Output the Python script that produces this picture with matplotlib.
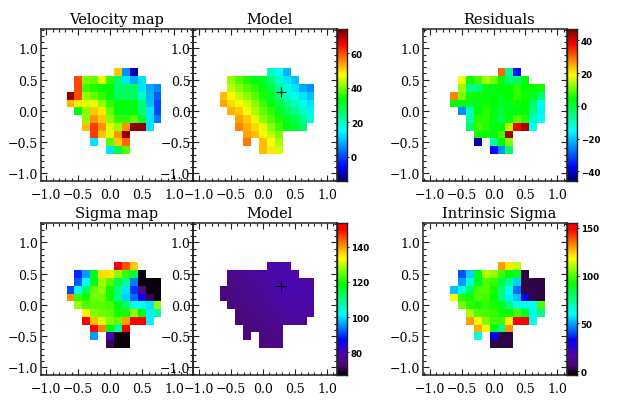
import numpy as np
import matplotlib
matplotlib.use('Agg')
import matplotlib.pyplot as plt
from matplotlib.colors import LinearSegmentedColormap
from matplotlib.ticker import MultipleLocator, FuncFormatter

N = np.nan

# spaxel values, rows from top to bottom, columns left to right
velocity = [
    [N, N, N, N, N, N, 51, 6, -10, N, N, N],
    [N, 60, 40, 39, 46, 36, 25, 13, 8, 13, N, N],
    [N, 60, 37, 35, 34, 33, 26, 26, 27, 13, 8, 5],
    [72, 60, 42, 39, 36, 33, 27, 27, 27, 20, 9, 2],
    [53, 49, 46, 46, 41, 36, 33, 33, 32, 25, 10, 0],
    [N, 33, 41, 51, 49, 39, 33, 32, 33, 25, 13, 0],
    [N, N, 41, 55, 51, 41, 36, 36, 38, 31, 13, 4],
    [N, N, 52, 61, 55, 46, 42, 55, 72, 72, 13, N],
    [N, N, N, 61, 51, 46, 55, 72, N, N, N, N],
    [N, N, N, 13, N, 38, 51, 58, N, N, N, N],
    [N, N, N, N, N, 13, 29, 38, N, N, N, N],
]
velocity_model = [
    [N, N, N, N, N, N, 20, 15, 9, N, N, N],
    [N, 42, 38, 35, 32, 31, 25, 19, 13, 10, N, N],
    [N, 44, 41, 38, 36, 32, 29, 23, 18, 13, 8, 6],
    [52, 48, 44, 41, 38, 35, 31, 25, 19, 17, 13, 10],
    [54, 50, 48, 45, 41, 37, 33, 29, 24, 20, 17, 13],
    [N, 53, 51, 47, 43, 39, 36, 31, 27, 24, 19, 14],
    [N, N, 54, 51, 46, 41, 38, 35, 31, 28, 23, 18],
    [N, N, 56, 53, 50, 46, 41, 37, 33, 30, 26, N],
    [N, N, N, 54, 52, 48, 44, 40, N, N, N, N],
    [N, N, N, 57, N, 52, 47, 43, N, N, N, N],
    [N, N, N, N, N, 52, 49, 45, N, N, N, N],
]
residuals = [
    [N, N, N, N, N, N, 30, -7, -36, N, N, N],
    [N, 18, 5, 8, 14, 11, 4, -5, -4, 4, N, N],
    [N, 13, -6, -5, 3, 3, 4, 4, 7, 4, 5, 5],
    [28, 11, 5, 5, 3, 4, 2, 4, 7, 5, 1, -4],
    [4, 3, 1, 3, 5, 4, 2, 2, 5, 4, -3, -14],
    [N, -25, -9, 4, 6, 3, 0, 3, 3, 4, -5, -16],
    [N, N, -9, 6, 7, 2, -2, 3, 9, 6, -10, -15],
    [N, N, -4, 8, 6, 3, 4, 15, 38, 43, -14, N],
    [N, N, N, 5, 4, 4, 8, 44, N, N, N, N],
    [N, N, N, -42, N, -8, 4, 12, N, N, N, N],
    [N, N, N, N, N, -37, -25, -4, N, N, N, N],
]
sigma = [
    [N, N, N, N, N, N, 150, 145, 137, N, N, N],
    [N, 89, 96, 117, 136, 135, 127, 122, 115, 68, N, N],
    [N, 92, 102, 117, 128, 124, 114, 109, 94, 68, 68, 68],
    [91, 102, 113, 125, 127, 120, 110, 100, 90, 74, 68, 68],
    [141, 122, 120, 126, 125, 120, 110, 99, 93, 85, 71, 68],
    [N, 128, 123, 124, 124, 123, 118, 112, 103, 102, 100, 127],
    [N, N, 134, 126, 125, 124, 120, 120, 127, 118, 101, 108],
    [N, N, 150, 138, 131, 126, 125, 140, 150, 150, 101, N],
    [N, N, N, 150, 142, 119, 108, 150, N, N, N, N],
    [N, N, N, 96, N, 80, 68, 68, N, N, N, N],
    [N, N, N, N, N, 71, 68, 68, N, N, N, N],
]
sigma_model = [
    [N, N, N, N, N, N, 78.5, 78.8, 78.5, N, N, N],
    [N, 75, 75.5, 76, 77, 77.5, 78, 78.5, 79, 78.5, N, N],
    [N, 74.5, 75, 75.5, 76.5, 77, 78, 79, 79, 79, 78.5, 78],
    [73.5, 74, 74.5, 75, 76, 76.5, 77.5, 79, 79, 79, 78.5, 78],
    [73.5, 74, 74.5, 75, 75.5, 76, 77, 78, 78.5, 78.5, 78, 78],
    [N, 73.5, 74, 74.5, 75, 75.5, 76.5, 77.5, 78, 78, 77.5, 77.5],
    [N, N, 73.5, 74, 74.5, 75, 76, 76.5, 77, 77.5, 77.5, 77.5],
    [N, N, 73.5, 73.5, 74, 74.5, 75.5, 76, 76.5, 77, 77, N],
    [N, N, N, 73, 73.5, 74, 74.5, 75, N, N, N, N],
    [N, N, N, 73, N, 73.5, 74, 74.5, N, N, N, N],
    [N, N, N, N, N, 73.5, 74, 74.5, N, N, N, N],
]
intrinsic = [
    [N, N, N, N, N, N, 130, 121, 112, N, N, N],
    [N, 41, 55, 88, 110, 107, 98, 91, 87, 2, N, N],
    [N, 49, 66, 87, 99, 97, 84, 75, 55, 2, 2, 2],
    [53, 64, 80, 99, 100, 93, 77, 61, 44, 2, 2, 2],
    [118, 95, 93, 99, 98, 92, 76, 58, 53, 33, 2, 2],
    [N, 104, 95, 94, 96, 94, 88, 77, 63, 63, 60, 99],
    [N, N, 109, 99, 98, 96, 93, 92, 99, 88, 63, 74],
    [N, N, 130, 119, 105, 98, 97, 119, 152, 152, 62, N],
    [N, N, N, 128, 119, 90, 74, 131, N, N, N, N],
    [N, N, N, 64, N, 32, 2, 2, N, N, N, N],
    [N, N, N, N, N, 2, 2, 2, N, N, N, N],
]

titles = ['Velocity map', 'Model', 'Residuals', 'Sigma map', 'Model', 'Intrinsic Sigma']
center = (0.287, 0.308)

vel_ticks = [0, 20, 40, 60]
res_ticks = [-40, -20, 0, 20, 40]
sig_ticks = [80, 100, 120, 140]
int_ticks = [0, 50, 100, 150]

W, H = 623, 402
xedges = -0.68 + 0.1235 * np.arange(13)
yedges = 0.68 - 0.1245 * np.arange(12)

cm_vel = LinearSegmentedColormap.from_list('vel', [
    (0, (0, 0, 0.4)), (.09, (0, 0, 1)), (.33, (0, 1, 1)), (.54, (0, 1, 0)),
    (.70, (1, 1, 0)), (.90, (1, 0, 0)), (1, (0.45, 0, 0))])
cm_sig = LinearSegmentedColormap.from_list('sig', [
    (0, (0, 0, 0)), (.06, (0.29, 0.03, 0.45)), (.13, (0.30, 0.03, 0.66)), (.20, (0.12, 0, 0.9)),
    (.23, (0, 0, 1)), (.30, (0, 0.43, 1)), (.40, (0, 1, 1)), (.60, (0, 1, 0)),
    (.77, (1, 1, 0)), (.96, (1, 0, 0)), (1, (1, 0, 0))])

plt.rcParams['font.family'] = 'DejaVu Serif'
dark = '#222222'


def box(l, t, r, b):
    return [l / W, 1 - b / H, (r - l) / W, (b - t) / H]


def tick_fmt(v, pos):
    return ('%.1f' % v).replace('-', '\u2212')


def panel(rect, xlim, ylim, vals, cmap, vmin, vmax, title, title_x, cross=False):
    ax = fig.add_axes(box(*rect))
    ax.patch.set_alpha(0)
    ax.pcolormesh(xedges, yedges, np.ma.masked_invalid(np.array(vals, dtype=float)),
                  cmap=cmap, vmin=vmin, vmax=vmax, shading='flat')
    if cross:
        ax.plot(center[0], center[1], '+', color='k', ms=7, mew=0.8)
    ax.set_xlim(xlim)
    ax.set_ylim(ylim)
    for axis in (ax.xaxis, ax.yaxis):
        axis.set_major_locator(MultipleLocator(0.5))
        axis.set_minor_locator(MultipleLocator(0.1))
        axis.set_major_formatter(FuncFormatter(tick_fmt))
    ax.tick_params(which='major', direction='in', top=True, right=True, length=4,
                   width=0.8, color=dark, labelsize=9, labelcolor='k')
    ax.tick_params(which='minor', direction='in', top=True, right=True, length=2,
                   width=0.8, color=dark)
    ax.tick_params(axis='x', which='major', pad=5)
    ax.tick_params(axis='y', which='major', pad=2)
    for s in ax.spines.values():
        s.set_linewidth(1.1)
        s.set_color(dark)
    fig.text(title_x / W, 1 - (rect[1] - 6) / H, title, fontsize=10.5, ha='center', va='baseline')
    return ax


def cbar(rect, cmap, vmin, vmax, ticks, fmt='%d'):
    cax = fig.add_axes(box(*rect))
    grad = np.linspace(0, 1, 256).reshape(-1, 1)
    cax.imshow(grad, aspect='auto', origin='lower', cmap=cmap, extent=[0, 1, vmin, vmax])
    cax.set_xticks([])
    cax.yaxis.tick_right()
    cax.set_yticks(ticks)
    cax.yaxis.set_major_formatter(FuncFormatter(lambda v, p: (fmt % v).replace('-', '\u2212')))
    cax.tick_params(axis='y', direction='out', length=1.5, width=0.7, color=dark, pad=1.5)
    for lab in cax.get_yticklabels():
        lab.set_family('DejaVu Sans')
        lab.set_fontweight('bold')
        lab.set_fontsize(6.3)
    for s in cax.spines.values():
        s.set_linewidth(1.0)
        s.set_color(dark)


fig = plt.figure(figsize=(W / 100, H / 100), dpi=100)

t1, b1 = 30, 182
t2, b2 = 224, 376
ylim = (-1.12, 1.31)

panel((41, t1, 193.3, b1), (-1.08, 1.30), ylim, velocity, cm_vel, -14, 74, titles[0], 117)
panel((193.3, t1, 336.7, b1), (-1.09, 1.15), ylim, velocity_model, cm_vel, -14, 74, titles[1], 269.5, cross=True)
cbar((336.7, t1, 346.7, b1), cm_vel, -14, 74, vel_ticks)
panel((423, t1, 566.5, b1), (-1.11, 1.145), ylim, residuals, cm_vel, -46, 47, titles[2], 499)
cbar((566.5, t1, 576.5, b1), cm_vel, -46, 47, res_ticks)

panel((41, t2, 193.3, b2), (-1.08, 1.30), ylim, sigma, cm_sig, 67, 153.6, titles[3], 117)
panel((193.3, t2, 336.7, b2), (-1.09, 1.15), ylim, sigma_model, cm_sig, 67, 153.6, titles[4], 269.5, cross=True)
cbar((336.7, t2, 346.7, b2), cm_sig, 67, 153.6, sig_ticks)
panel((423, t2, 566.5, b2), (-1.11, 1.145), ylim, intrinsic, cm_sig, -4, 155, titles[5], 499)
cbar((566.5, t2, 576.5, b2), cm_sig, -4, 155, int_ticks, fmt='%g')

fig.savefig('out.png', dpi=100)
